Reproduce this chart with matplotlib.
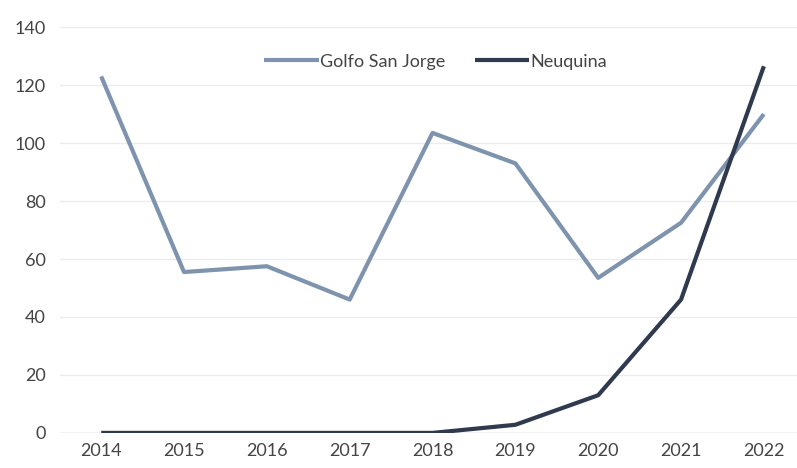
import matplotlib.pyplot as plt

years = [2014, 2015, 2016, 2017, 2018, 2019, 2020, 2021, 2022]
golfo = [123, 55.5, 57.5, 46, 103.5, 93, 53.5, 72.5, 110]
neuquina = [0, 0, 0, 0, 0, 2.8, 13, 46, 126.5]
yticks = [0, 20, 40, 60, 80, 100, 120, 140]

plt.rcParams['font.family'] = ['Lato', 'DejaVu Sans']

fig = plt.figure(figsize=(7.97, 4.68), dpi=100)
ax = fig.add_axes([0.075, 0.075, 0.925, 0.867])

ax.plot(years, golfo, color='#7d93ae', lw=3, label='Golfo San Jorge', solid_capstyle='butt')
ax.plot(years, neuquina, color='#2f3a4f', lw=3, label='Neuquina', solid_capstyle='butt')

ax.set_xlim(2013.5, 2022.4)
ax.set_ylim(0, 140)
ax.set_yticks(yticks)
ax.set_xticks(years)
ax.grid(axis='y', color='#ececec', lw=1)
ax.set_axisbelow(True)
for s in ax.spines.values():
    s.set_visible(False)
ax.axhline(0, color='#d9d9d9', lw=1, zorder=0)
ax.tick_params(length=0, labelsize=13, labelcolor='#444444', pad=10)
ax.tick_params(axis='x', pad=7)

ax.legend(loc='upper center', bbox_to_anchor=(0.51, 0.975), ncol=2, frameon=False,
          fontsize=13, labelcolor='#444444', handlelength=3, handletextpad=0.1,
          columnspacing=1.6)

fig.savefig('out.png', dpi=100)
